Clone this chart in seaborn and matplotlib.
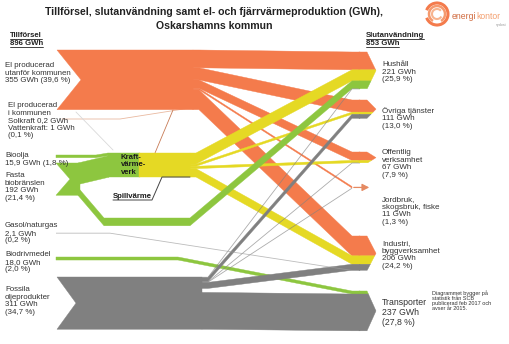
import numpy as np
import pandas as pd
import matplotlib
matplotlib.use("Agg")
import matplotlib.pyplot as plt
from matplotlib.patches import Polygon, Arc
import seaborn as sns

sns.set_theme(style="white")
plt.rcParams['font.family'] = ['Liberation Sans', 'DejaVu Sans']

# ---------------- data (GWh) ----------------
sources = ["El", "ElKommun", "Bioolja", "Fasta", "Gasol", "Biodriv", "Fossil"]
source_values = [355, 1.2, 15.9, 192, 2.1, 18.0, 311]
source_labels = ["El producerad\nutanför kommunen\n355 GWh (39,6 %)",
                 "El producerad\ni kommunen\nSolkraft 0,2 GWh\nVattenkraft: 1 GWh\n(0,1 %)",
                 "Bioolja\n15,9 GWh (1,8 %)",
                 "Fasta\nbiobränslen\n192 GWh\n(21,4 %)",
                 "Gasol/naturgas\n2,1 GWh\n(0,2 %)",
                 "Biodrivmedel\n18,0 GWh\n(2,0 %)",
                 "Fossila\noljeprodukter\n311 GWh\n(34,7 %)"]

targets = ["Hushåll", "Övriga", "Offentlig", "Jordbruk", "Industri", "Transporter"]
target_values = [221, 111, 67, 11, 206, 237]
target_labels = ["Hushåll\n221 GWh\n(25,9 %)",
                 "Övriga tjänster\n111 GWh\n(13,0 %)",
                 "Offentlig\nverksamhet\n67 GWh\n(7,9 %)",
                 "Jordbruk,\nskogsbruk, fiske\n11 GWh\n(1,3 %)",
                 "Industri,\nbyggverksamhet\n206 GWh\n(24,2 %)",
                 "Transporter\n237 GWh\n(27,8 %)"]

# flows to final use (listed in stacking order at each target)
flow_src = ["El", "KVV", "Fasta", "Fossil",
            "El", "KVV", "Fossil",
            "El", "KVV", "Fossil",
            "El", "Fossil",
            "El", "KVV", "Fossil", "Gasol",
            "Biodriv", "Fossil"]
flow_tgt = ["Hushåll"] * 4 + ["Övriga"] * 3 + ["Offentlig"] * 3 + ["Jordbruk"] * 2 + \
           ["Industri"] * 4 + ["Transporter"] * 2
flow_val = [106, 66, 46, 3,
            72, 13, 24,
            50, 14, 3,
            9, 2,
            118, 50, 36, 2.1,
            18, 219]

# inputs to the combined heat and power plant (Kraftvärmeverk)
kvv_in_src = ["Bioolja", "Fasta"]
kvv_in_val = [15.9, 128]
kvv_total = 143

total_in, total_out = 896, 853

# ---------------- style / layout ----------------
ORANGE = "#F47B4C"
YELLOW = "#E5D924"
GREEN = "#8DC63F"
GREY = "#808080"
pal = dict(zip(["El", "KVV", "Fasta", "Bioolja", "Biodriv", "Fossil", "Gasol"],
               sns.color_palette([ORANGE, YELLOW, GREEN, GREEN, GREEN, GREY, "#A0A0A0"])))
TXT = "#333333"
S = 0.168  # px per GWh

src_top = {"El": 50, "Bioolja": 155, "Fasta": 163, "Gasol": 233, "Biodriv": 257, "Fossil": 277}
src_x = {"El": 193, "KVV": 190, "Fossil": 202}
KVV_X0, KVV_XM, KVV_X1, KVV_TOP = 108, 139, 190, 153
tgt_top = {"Hushåll": 52, "Övriga": 100, "Offentlig": 152, "Jordbruk": 186.5,
           "Industri": 236, "Transporter": 291}
XB, XT, XC, XTIP = 352, 360, 367, 376

fig = plt.figure(figsize=(5.09, 3.44), dpi=100)
ax = fig.add_axes([0, 0, 1, 1])
ax.set_xlim(0, 509)
ax.set_ylim(344, 0)
ax.axis("off")


def band(pts, h, color, z=2, alpha=1.0):
    if h < 1.2:
        xs = [p[0] for p in pts]
        ys = [p[1] + h / 2 for p in pts]
        ax.plot(xs, ys, color=color, lw=max(0.6, h * 0.72), zorder=z,
                alpha=alpha, solid_capstyle="butt")
        return
    poly = [(x, y) for x, y in pts] + [(x, y + h) for x, y in pts[::-1]]
    ax.add_patch(Polygon(poly, closed=True, fc=color, ec=color, lw=0.3, zorder=z, alpha=alpha))


def src_block(x0, x1, top, h, color, notch):
    mid = top + h / 2
    poly = [(x0, top), (x1, top), (x1, top + h), (x0, top + h), (x0 + notch, mid)]
    ax.add_patch(Polygon(poly, closed=True, fc=color, ec=color, lw=0.3, zorder=3))


src_tot = dict(zip(sources, source_values))
src_tot["KVV"] = kvv_total

# source offsets: stack by target order, last fossil flow aligned to bottom
src_slot = {}
for s in set(flow_src):
    if s == "Fasta":
        continue
    idx = [i for i, fs in enumerate(flow_src) if fs == s]
    top = KVV_TOP if s == "KVV" else src_top[s]
    off = top
    for k, i in enumerate(idx):
        if k == len(idx) - 1 and s == "Fossil":
            src_slot[i] = top + src_tot[s] * S - flow_val[i] * S
        else:
            src_slot[i] = off
        off += flow_val[i] * S

# target offsets
tgt_slot = {}
tgt_off = dict(tgt_top)
for i, t in enumerate(flow_tgt):
    tgt_slot[i] = tgt_off[t]
    tgt_off[t] += flow_val[i] * S

# ---------- source blocks ----------
src_block(57, src_x["El"], src_top["El"], src_tot["El"] * S, ORANGE, 24)
src_block(57, src_x["Fossil"], src_top["Fossil"], src_tot["Fossil"] * S, GREY, 19)
fasta_h = src_tot["Fasta"] * S
src_block(56, 80, src_top["Fasta"], fasta_h, GREEN, 14)

# KVV block
kvv_h = kvv_total * S
ax.add_patch(Polygon([(KVV_X0, KVV_TOP), (KVV_XM + 1, KVV_TOP), (KVV_XM + 1, KVV_TOP + kvv_h),
                      (KVV_X0, KVV_TOP + kvv_h)], fc=GREEN, ec=GREEN, lw=0.3, zorder=3))
ax.add_patch(Polygon([(KVV_XM, KVV_TOP), (KVV_X1, KVV_TOP), (KVV_X1, KVV_TOP + kvv_h),
                      (KVV_XM, KVV_TOP + kvv_h)], fc=YELLOW, ec=YELLOW, lw=0.3, zorder=3))

# inputs to KVV
bio_h = kvv_in_val[0] * S
band([(56, src_top["Bioolja"]), (96, src_top["Bioolja"]), (KVV_X0, KVV_TOP)], bio_h, GREEN, z=3)
band([(78, src_top["Fasta"]), (KVV_X0 + 1, KVV_TOP + bio_h)], kvv_in_val[1] * S, GREEN, z=3)

# ---------- flows to targets ----------
order = {"El": 2, "KVV": 3, "Fasta": 4, "Biodriv": 4, "Fossil": 5, "Gasol": 5}
for i, (s, t, v) in enumerate(zip(flow_src, flow_tgt, flow_val)):
    h = v * S
    yt = tgt_slot[i]
    xend = XT if t != "Jordbruk" else XB
    col = pal[s]
    alpha = 1.0
    if s == "Fasta":
        ys = src_top["Fasta"] + fasta_h - h
        pts = [(78, ys), (104, 218), (190, 218), (XB, yt), (xend, yt)]
    elif s == "Biodriv":
        ys = src_top["Biodriv"]
        pts = [(56, ys), (178, ys), (XB, yt), (xend, yt)]
    elif s == "Gasol":
        ys = src_top["Gasol"]
        pts = [(56, ys), (110, ys), (XB, yt), (xend, yt)]
        alpha = 0.7
    else:
        ys = src_slot[i]
        x0 = src_x[s]
        pts = [(x0, ys), (x0 + 6, ys), (XB, yt), (xend, yt)]
        if h < 1.2:
            alpha = 0.65
    band(pts, h, col, z=order[s], alpha=alpha)

# small extra connections (own electricity production)
ax.plot([62, 120, 190], [119, 119, 108], color="#E9B9A0", lw=0.6, zorder=1)
ax.plot([155, 173], [KVV_TOP, 110], color="#C77A55", lw=0.6, zorder=1)
ax.plot([76, 113], [112, 150], color="#D9D9D9", lw=0.6, zorder=1)
# spillvärme line
ax.plot([113, 152, 162, KVV_X1], [200, 200, KVV_TOP + kvv_h, KVV_TOP + kvv_h],
        color="#444444", lw=0.7, zorder=4)

# ---------- target chevrons ----------
seg_colors = [pal[s] for s in flow_src]
for t, tv in zip(targets, target_values):
    idx = [i for i, ft in enumerate(flow_tgt) if ft == t]
    top = tgt_top[t]
    H = sum(flow_val[i] for i in idx) * S
    if t == "Jordbruk":
        ax.annotate("", xy=(372, top + H / 2), xytext=(XB - 1, top + H / 2),
                    arrowprops=dict(arrowstyle="-|>,head_length=0.35,head_width=0.18",
                                    color="#E58A62", lw=0.9), zorder=6)
        continue
    mid = top + H / 2

    def xr(y):
        return XC + (XTIP - XC) * (1 - abs(y - mid) / (H / 2))

    for i in idx:
        y0 = tgt_slot[i]
        y1 = y0 + flow_val[i] * S
        if y1 - y0 < 0.8:
            continue
        pts = [(XT - 1, y0), (xr(y0), y0)]
        if y0 < mid < y1:
            pts.append((XTIP, mid))
        pts += [(xr(y1), y1), (XT - 1, y1)]
        ax.add_patch(Polygon(pts, closed=True, fc=seg_colors[i], ec=seg_colors[i],
                             lw=0.3, zorder=6))

# ---------- texts ----------
ax.text(214, 12, "Tillförsel, slutanvändning samt el- och fjärrvärmeproduktion (GWh),",
        ha="center", va="center", fontsize=7.55, fontweight="bold", color="#222222")
ax.text(214, 26, "Oskarshamns kommun", ha="center", va="center", fontsize=7.55,
        fontweight="bold", color="#222222")

underlined = []
for x, y, s in [(10, 37, "Tillförsel"), (10, 45, f"{total_in} GWh"),
                (366, 37, "Slutanvändning"), (366, 45, f"{total_out} GWh")]:
    t = ax.text(x, y, s, fontsize=5.6, fontweight="bold", color="#222222",
                ha="left", va="baseline")
    underlined.append(t)

lab_top = [62, 102, 152, 172, 222, 251, 286]
lab_x = [5, 8, 5, 5, 5, 5, 5]
for x, y, s in zip(lab_x, lab_top, source_labels):
    ax.text(x, y, s, fontsize=5.7, color=TXT, ha="left", va="top", linespacing=1.12)

tlab_top = [61, 107, 149, 196, 240, 298]
for y, s in zip(tlab_top, target_labels):
    fs = 6.3 if s.startswith("Transporter") else 5.8
    ax.text(382, y, s, fontsize=fs, color=TXT, ha="left", va="top", linespacing=1.12)

ax.text(121, 154, "Kraft-\nvärme-\nverk", fontsize=5.6, fontweight="bold", color="#1a1a1a",
        ha="left", va="top", linespacing=1.05, zorder=8)
ax.text(113, 198.5, "Spillvärme", fontsize=5.6, fontweight="bold", color="#1a1a1a",
        ha="left", va="baseline", zorder=8)

ax.text(432, 290, "Diagrammet bygger på\nstatistik från SCB\npublicerad feb 2017 och\navser år 2015.",
        fontsize=4.0, color="#333333", ha="left", va="top", linespacing=1.05)

# logo
for r, w, a1, a2, c in [(11, 2.2, 200, 520, "#F47B4C"), (8, 1.8, 120, 420, "#F59A6E"),
                        (5, 1.5, 30, 320, "#F7B48E")]:
    ax.add_patch(Arc((437, 14), 2 * r, 2 * r, theta1=a1, theta2=a2, color=c, lw=w, zorder=5))
t_en = ax.text(452, 19, "energi", fontsize=6.2, color="#D06A3E", ha="left", va="baseline")

# underline headers / logo text placement
fig.canvas.draw()
r = fig.canvas.get_renderer()
inv = ax.transData.inverted()
for t in underlined:
    bb = t.get_window_extent(renderer=r)
    (x0, _), (x1, _) = inv.transform([(bb.x0, bb.y0), (bb.x1, bb.y0)])
    yb = t.get_position()[1] + 1.5
    ax.plot([x0, x1], [yb, yb], color="#222222", lw=0.6)
bb = t_en.get_window_extent(renderer=r)
xe = inv.transform([(bb.x1, bb.y0)])[0][0]
ax.text(xe + 0.3, 19, "kontor", fontsize=6.2, color="#F4A070", ha="left", va="baseline")
ax.text(496, 26, "sydost", fontsize=2.6, color="#999999", ha="left", va="baseline")

fig.savefig("out.png", dpi=100)
